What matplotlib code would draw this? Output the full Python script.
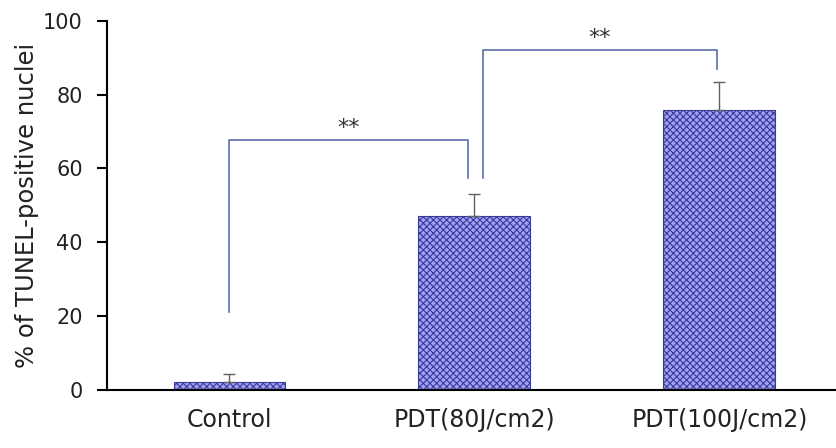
import matplotlib
matplotlib.use("Agg")
from matplotlib import pyplot as plt
import numpy as np

# values
groups = ["Control", "PDT(80J/cm2)", "PDT(100J/cm2)"]
means = [2.2, 47.1, 75.9]
errs = [2.0, 6.0, 7.4]
y_ticks = [0, 20, 40, 60, 80, 100]

# significance brackets: (x_left, x_right, y_left_end, y_top, y_right_end, label)
brackets = [
    (0.0, 0.975, 21.0, 67.7, 57.4, "**"),
    (1.035, 1.99, 57.4, 92.1, 87.0, "**"),
]

plt.rcParams['font.family'] = ['DejaVu Sans']
plt.rcParams['hatch.linewidth'] = 0.8
plt.rcParams['hatch.color'] = '#20208a'

fig = plt.figure(figsize=(8.36, 4.48), dpi=100)
ax = fig.add_axes([0.128, 0.1295, 0.872, 0.8243])

x = np.arange(len(groups))
ax.bar(x, means, width=0.457, color='#a0a0f4', edgecolor='#3a3a9a',
       hatch='xxxxx', linewidth=0.8, zorder=2)
ax.errorbar(x, means, yerr=[np.zeros(len(errs)), errs], fmt='none',
            ecolor='#606060', elinewidth=1.0, capsize=4, capthick=1.0, zorder=3)

for xl, xr, yl, yt, yr, lab in brackets:
    ax.plot([xl, xl, xr, xr], [yl, yt, yt, yr], color='#5a6ea8', lw=1.2, zorder=1)
    ax.text((xl + xr) / 2, yt + 3.2, lab, ha='center', va='center',
            fontsize=16, color='#333333')

ax.set_xlim(-0.5, 2.476)
ax.set_ylim(0, 100)
ax.set_yticks(y_ticks)
ax.set_xticks(x)
ax.set_xticklabels(groups, fontsize=17, color='#222222')
ax.tick_params(axis='x', length=0, pad=13)
ax.tick_params(axis='y', labelsize=15, labelcolor='#222222', length=7.5,
               width=1.5, direction='out', pad=10)
ax.set_ylabel("% of TUNEL-positive nuclei", fontsize=17.5, labelpad=3, color='#222222')

for side in ['top', 'right']:
    ax.spines[side].set_visible(False)
for side in ['left', 'bottom']:
    ax.spines[side].set_linewidth(1.5)
    ax.spines[side].set_color('black')

fig.savefig("out.png", dpi=100)
